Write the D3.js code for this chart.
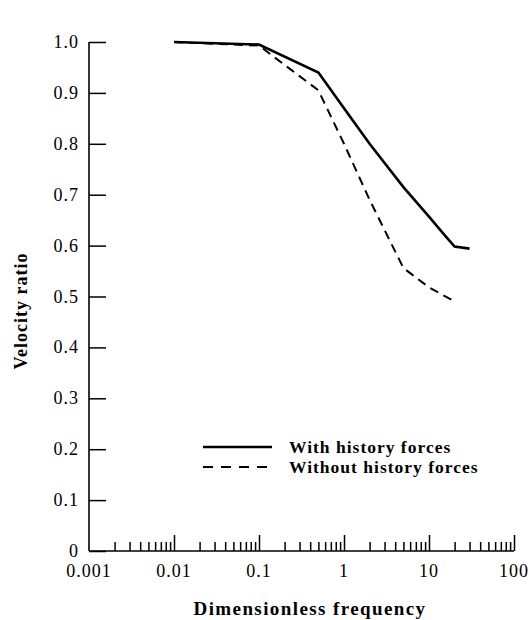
<!DOCTYPE html>
<html>
<head>
<meta charset="utf-8">
<script src="https://cdn.jsdelivr.net/npm/d3@7"></script>
<style>
    body { margin: 0; background: #fff; }
    svg text { font-family: "Liberation Serif", "DejaVu Serif", serif; fill: #000; }
</style>
</head>
<body>
<div id="chart"></div>
<script>
// values
var freqWith = [0.01, 0.1, 0.5, 1, 2, 5, 10, 15, 20, 30]
var ratioWith = [1.0, 0.995, 0.94, 0.87, 0.80, 0.715, 0.657, 0.622, 0.598, 0.594]

var freqWithout = [0.01, 0.1, 0.2, 0.5, 1, 2, 5, 10, 20]
var ratioWithout = [1.0, 0.993, 0.955, 0.905, 0.80, 0.69, 0.556, 0.518, 0.49]

var xTickValues = [0.001, 0.01, 0.1, 1, 10, 100]
var xTickLabels = ["0.001", "0.01", "0.1", "1", "10", "100"]
var yTickValues = [0, 0.1, 0.2, 0.3, 0.4, 0.5, 0.6, 0.7, 0.8, 0.9, 1.0]
var yTickLabels = ["0", "0.1", "0.2", "0.3", "0.4", "0.5", "0.6", "0.7", "0.8", "0.9", "1.0"]

var seriesNames = ["With history forces", "Without history forces"]

const width = 532, height = 620
const margin = { top: 42, left: 89, right: 18, bottom: 69 }

var svg = d3.select('#chart').append('svg')
    .attr('width', width)
    .attr('height', height)

const x = d3.scaleLog().domain([0.001, 100]).range([margin.left, width - margin.right])
const y = d3.scaleLinear().domain([0, 1]).range([height - margin.bottom, margin.top])

// y axis, ticks pointing inward
var yAxis = svg.append('g')
    .attr('transform', `translate(${margin.left},0)`)
    .call(d3.axisRight(y).tickValues(yTickValues).tickSize(17).tickFormat(''))
yAxis.select('.domain').remove()
yAxis.selectAll('line').attr('stroke', '#000').attr('stroke-width', 1.6)
svg.append('line')
    .attr('x1', margin.left).attr('x2', margin.left)
    .attr('y1', y(1)).attr('y2', y(0))
    .attr('stroke', '#000').attr('stroke-width', 1.6)

svg.append('g').selectAll('text')
    .data(yTickValues)
    .enter()
    .append('text')
    .attr('x', 79)
    .attr('y', d => y(d) + 6)
    .attr('text-anchor', 'end')
    .attr('style', 'font-size:18px;letter-spacing:1px;')
    .text((d, i) => yTickLabels[i])

// x axis: decade ticks long, 2..9 ticks short
var minorTicks = []
for (let e = -3; e < 2; e++) {
    for (let m = 2; m <= 9; m++) minorTicks.push(m * Math.pow(10, e))
}
svg.append('line')
    .attr('x1', x(0.001)).attr('x2', x(100))
    .attr('y1', y(0)).attr('y2', y(0))
    .attr('stroke', '#000').attr('stroke-width', 1.6)

var xAxis = svg.append('g')
    .attr('transform', `translate(0,${y(0)})`)
    .call(d3.axisTop(x).tickValues(minorTicks).tickSize(9).tickFormat(''))
xAxis.select('.domain').remove()
var xAxisMajor = svg.append('g')
    .attr('transform', `translate(0,${y(0)})`)
    .call(d3.axisTop(x).tickValues(xTickValues.slice(1)).tickSize(16).tickFormat(''))
xAxisMajor.select('.domain').remove()
svg.selectAll('.tick line').attr('stroke', '#000').attr('stroke-width', 1.5)

svg.append('g').selectAll('text')
    .data(xTickValues)
    .enter()
    .append('text')
    .attr('x', d => x(d))
    .attr('y', 577)
    .attr('text-anchor', 'middle')
    .attr('style', 'font-size:18px;letter-spacing:1px;')
    .text((d, i) => xTickLabels[i])

// axis titles
svg.append('text')
    .attr('x', 310)
    .attr('y', 615)
    .attr('text-anchor', 'middle')
    .attr('style', 'font-size:19px;font-weight:bold;letter-spacing:1.4px;')
    .text('Dimensionless frequency')

svg.append('text')
    .attr('transform', 'translate(27,311) rotate(-90)')
    .attr('text-anchor', 'middle')
    .attr('style', 'font-size:18px;font-weight:bold;letter-spacing:1px;')
    .text('Velocity ratio')

// curves
var line = d3.line()
    .x(d => x(d[0]))
    .y(d => y(d[1]))

svg.append('path')
    .attr('d', line(freqWithout.map((f, i) => [f, ratioWithout[i]])))
    .attr('fill', 'none')
    .attr('stroke', '#000')
    .attr('stroke-width', 2)
    .attr('stroke-dasharray', '9,6')

svg.append('path')
    .attr('d', line(freqWith.map((f, i) => [f, ratioWith[i]])))
    .attr('fill', 'none')
    .attr('stroke', '#000')
    .attr('stroke-width', 2.6)

// legend
var legend = svg.append('g')
seriesNames.forEach((name, i) => {
    legend.append('line')
        .attr('x1', 203).attr('x2', 272)
        .attr('y1', 447 + i * 20).attr('y2', 447 + i * 20)
        .attr('stroke', '#000')
        .attr('stroke-width', i == 0 ? 2.6 : 2)
        .attr('stroke-dasharray', i == 0 ? null : '10,8')
    legend.append('text')
        .attr('x', 289)
        .attr('y', 453 + i * 20)
        .attr('style', 'font-size:17.5px;font-weight:bold;letter-spacing:1px;')
        .text(name)
})
</script>
</body>
</html>
